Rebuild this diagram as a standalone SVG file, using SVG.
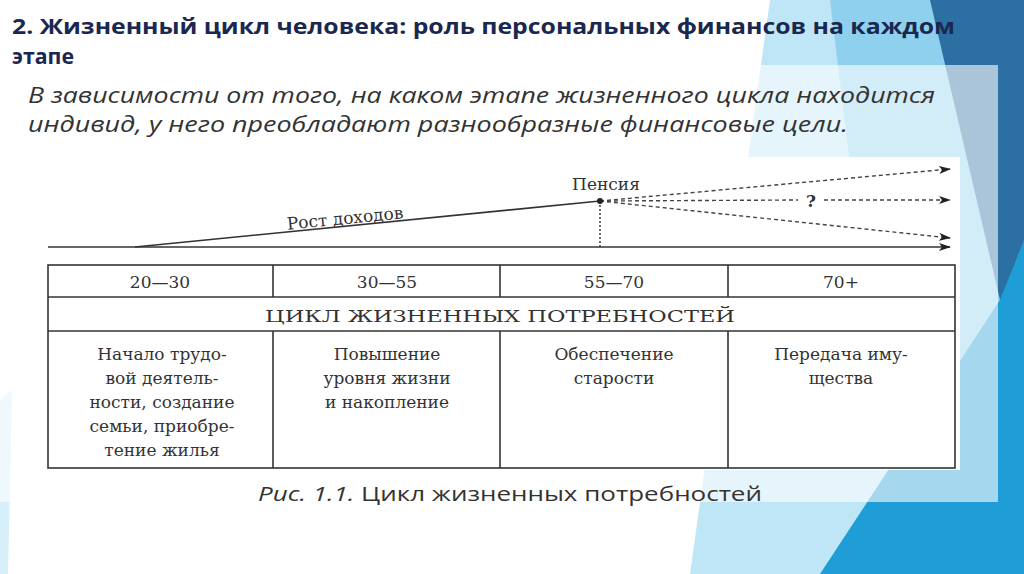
<svg xmlns="http://www.w3.org/2000/svg" width="1024" height="574" viewBox="0 0 1024 574">
<defs>
<style>
.t{font-family:"DejaVu Serif","Liberation Serif",serif;font-size:17px;fill:#333;text-anchor:middle}
.ln{stroke:#333;stroke-width:1.6;fill:none}
.da{stroke:#444;stroke-width:1.4;fill:none;stroke-dasharray:4 3}
.h{font-family:"Open Sans","Noto Sans",sans-serif}
</style>
<marker id="ah" viewBox="0 0 12 8" refX="11" refY="4" markerWidth="12" markerHeight="8" markerUnits="userSpaceOnUse" orient="auto"><path d="M0,0 L12,4 L0,8 L3,4 Z" fill="#222"/></marker>
</defs>
<rect width="1024" height="574" fill="#fff"/>
<polygon points="770,0 1024,0 1024,574 690,574" fill="#bfe6f6"/>
<polygon points="830,0 1024,0 1024,574 900,574" fill="#8fd0ee"/>
<polygon points="930,0 1024,0 1024,574 1000,300" fill="#2b6fa3"/>
<polygon points="1000,300 1024,240 1024,574 820,574" fill="#1e9dd6"/>
<polygon points="0,400 12,390 8,574 0,574" fill="#d6eff9"/>
<rect x="0" y="65" width="998" height="437" fill="#fff" opacity="0.6"/>
<text class="h" x="12" y="34" font-size="20.5" font-weight="bold" fill="#1a2850" textLength="943" lengthAdjust="spacingAndGlyphs">2. Жизненный цикл человека: роль персональных финансов на каждом</text>
<text class="h" x="12" y="64" font-size="20.5" font-weight="bold" fill="#1a2850" textLength="62" lengthAdjust="spacingAndGlyphs">этапе</text>
<text class="h" x="28" y="103" font-size="22" font-style="italic" fill="#333" textLength="907" lengthAdjust="spacingAndGlyphs">В зависимости от того, на каком этапе жизненного цикла находится</text>
<text class="h" x="28" y="132" font-size="22" font-style="italic" fill="#333" textLength="820" lengthAdjust="spacingAndGlyphs">индивид, у него преобладают разнообразные финансовые цели.</text>
<rect x="48" y="157" width="912" height="313" fill="#fff"/>
<g id="connectors">
<line class="ln" x1="48" y1="247" x2="950" y2="247" marker-end="url(#ah)"/>
<line class="ln" x1="135" y1="247" x2="600" y2="201"/>
<line class="da" x1="600" y1="201" x2="950" y2="169" marker-end="url(#ah)"/>
<line class="da" x1="600" y1="201" x2="798" y2="200"/>
<line class="da" x1="824" y1="200" x2="950" y2="200" marker-end="url(#ah)"/>
<line class="da" x1="600" y1="201" x2="950" y2="238" marker-end="url(#ah)"/>
<line stroke="#444" stroke-width="1.6" stroke-dasharray="2 2" x1="600" y1="201" x2="600" y2="247"/>
<circle cx="600" cy="201" r="3" fill="#222"/>
</g>
<text class="t" x="345" y="224" transform="rotate(-5.6 345 218)">Рост доходов</text>
<text class="t" x="606" y="190">Пенсия</text>
<text class="t" x="811" y="207" font-weight="bold">?</text>
<g id="table" class="ln">
<rect x="48" y="265" width="907" height="203"/>
<line x1="48" y1="297" x2="955" y2="297"/>
<line x1="48" y1="331" x2="955" y2="331"/>
<line x1="273" y1="265" x2="273" y2="297"/><line x1="273" y1="331" x2="273" y2="468"/>
<line x1="500" y1="265" x2="500" y2="297"/><line x1="500" y1="331" x2="500" y2="468"/>
<line x1="728" y1="265" x2="728" y2="297"/><line x1="728" y1="331" x2="728" y2="468"/>
</g>
<g id="c1"><text class="t" x="160" y="288">20—30</text>
<text class="t" x="162" y="360">Начало трудо-</text><text class="t" x="162" y="384">вой деятель-</text><text class="t" x="162" y="408">ности, создание</text><text class="t" x="162" y="432">семьи, приобре-</text><text class="t" x="162" y="456">тение жилья</text></g>
<g id="c2"><text class="t" x="387" y="288">30—55</text>
<text class="t" x="387" y="360">Повышение</text><text class="t" x="387" y="384">уровня жизни</text><text class="t" x="387" y="408">и накопление</text></g>
<g id="c3"><text class="t" x="614" y="288">55—70</text>
<text class="t" x="614" y="360">Обеспечение</text><text class="t" x="614" y="384">старости</text></g>
<g id="c4"><text class="t" x="841" y="288">70+</text>
<text class="t" x="841" y="360">Передача иму-</text><text class="t" x="841" y="384">щества</text></g>
<text class="t" x="500" y="322" textLength="470" lengthAdjust="spacingAndGlyphs">ЦИКЛ ЖИЗНЕННЫХ ПОТРЕБНОСТЕЙ</text>
<text class="h" x="258" y="501" font-size="20.5" fill="#333" textLength="504" lengthAdjust="spacingAndGlyphs"><tspan font-style="italic">Рис. 1.1.</tspan> Цикл жизненных потребностей</text>
</svg>
